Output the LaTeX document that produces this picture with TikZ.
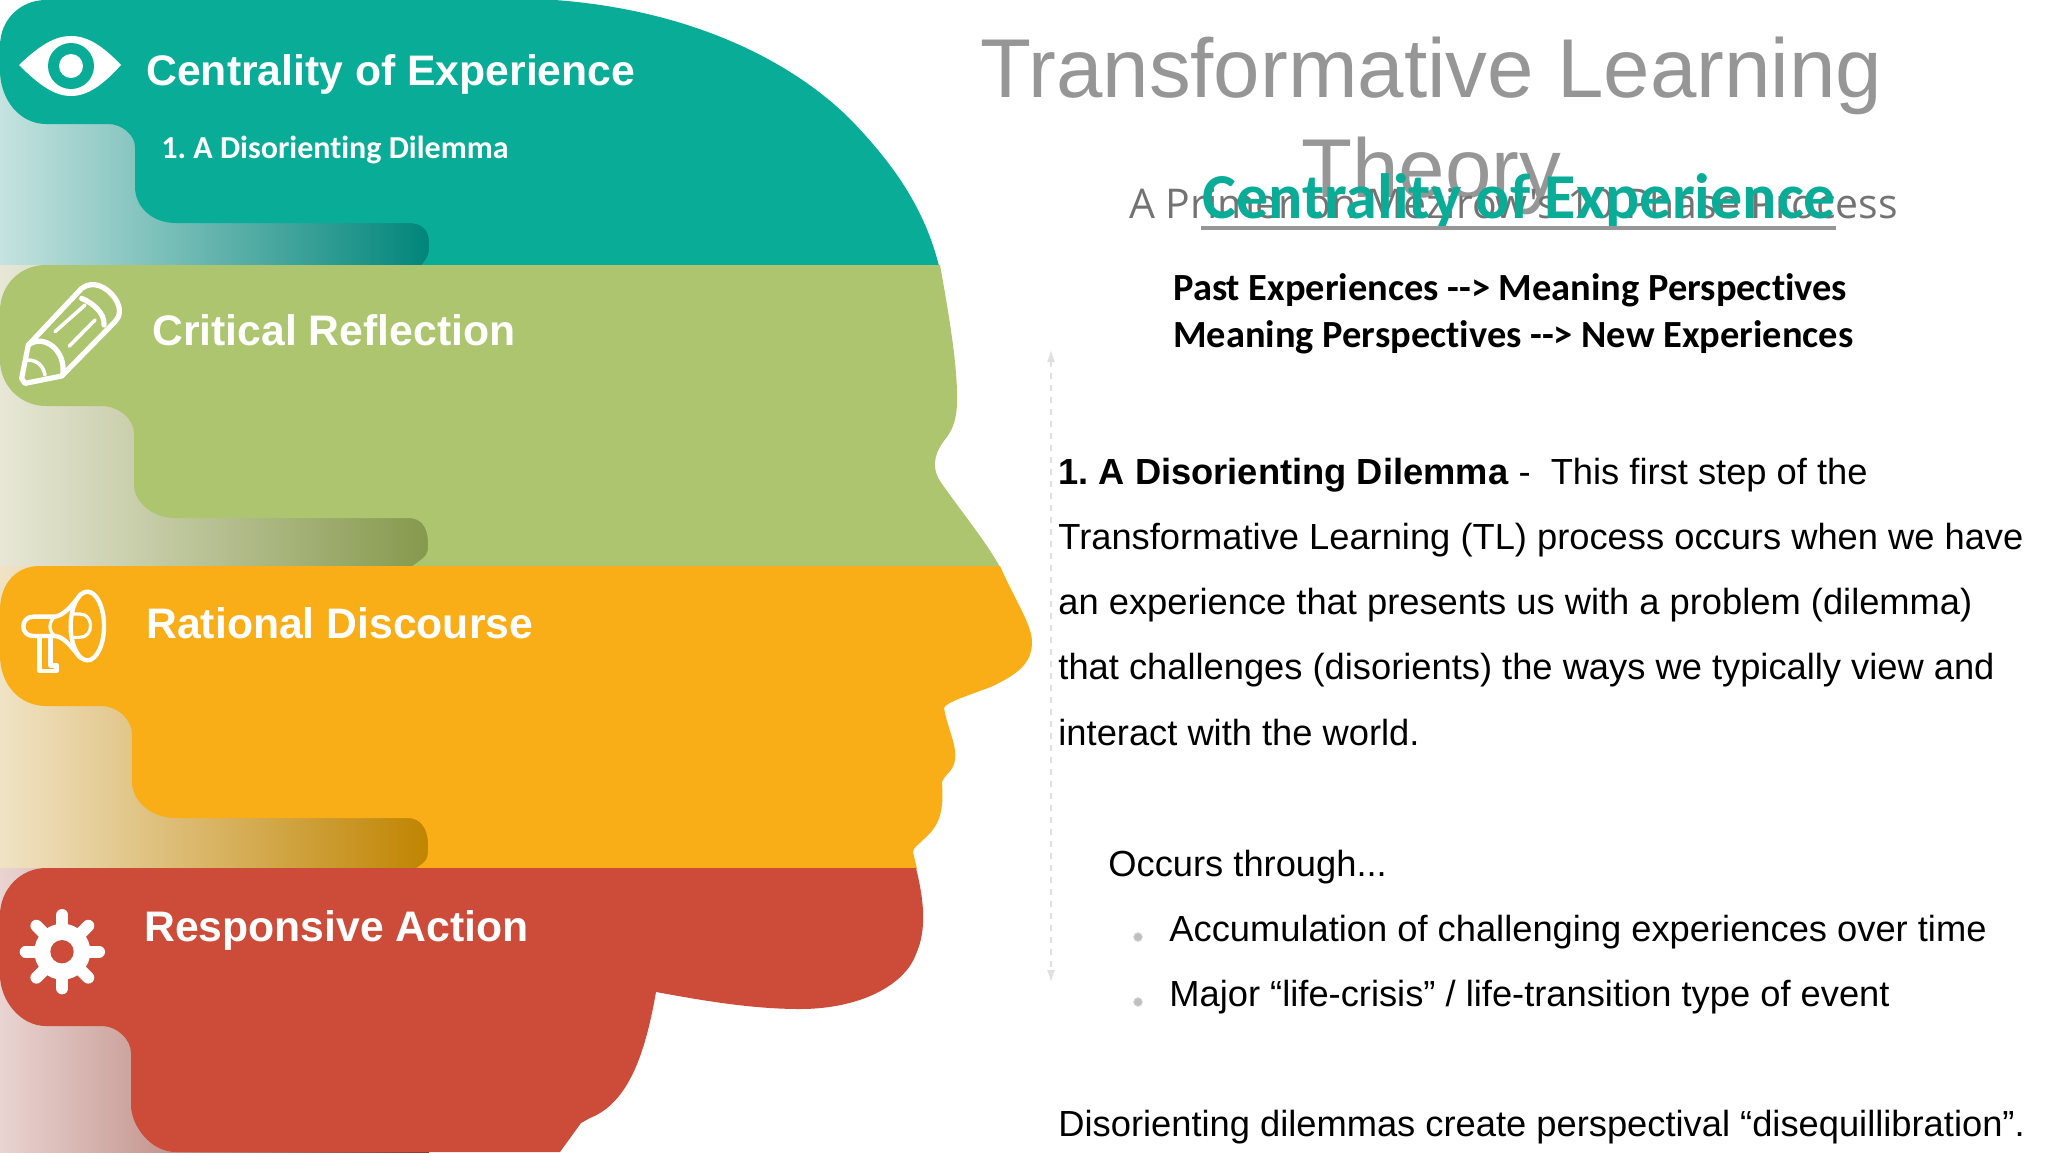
\documentclass[tikz,border=0pt]{standalone}
\usepackage{fontspec}
\setmainfont{Liberation Sans}
\newfontfamily\carlito[Ligatures=NoCommon]{Carlito}
\newfontfamily\opensans{Open Sans}
\usetikzlibrary{arrows.meta}
\definecolor{tealband}{HTML}{09AC96}
\definecolor{greenband}{HTML}{ADC56F}
\definecolor{orangeband}{HTML}{F9AD17}
\definecolor{redband}{HTML}{CC4C39}
\definecolor{titlegray}{HTML}{969696}
\tikzset{
  label/.style={anchor=base west,inner sep=0pt},
  bandhead/.style={label,text=white,font=\bfseries\fontsize{21.35pt}{24pt}\selectfont},
  bodyline/.style={label,text=black,font=\fontsize{18.15pt}{20pt}\selectfont},
  pastline/.style={label,text=black,font=\carlito\bfseries\fontsize{19.2pt}{22pt}\selectfont},
  icon/.style={draw=white,line width=2.6pt,line join=round,line cap=round},
}
\begin{document}
\frenchspacing
\begin{tikzpicture}[x=0.5pt,y=-0.5pt]
    \useasboundingbox (0,0) rectangle (2048,1152);
    % fades behind the bands
    \shade[left color={rgb,255:red,197;green,227;blue,224},middle color={rgb,255:red,111;green,185;blue,173},right color={rgb,255:red,0;green,133;blue,122}] (0,60) rectangle (429,265);
    \shade[left color={rgb,255:red,232;green,231;blue,215},middle color={rgb,255:red,190;green,198;blue,155},right color={rgb,255:red,133;green,153;blue,76}] (0,265) rectangle (429,566);
    \shade[left color={rgb,255:red,240;green,227;blue,197},middle color={rgb,255:red,223;green,188;blue,114},right color={rgb,255:red,192;green,132;blue,0}] (0,566) rectangle (429,868);
    \shade[left color={rgb,255:red,233;green,212;blue,210},middle color={rgb,255:red,190;green,138;blue,130},right color={rgb,255:red,140;green,53;blue,38}] (0,868) rectangle (429,1152);
    % the four bands of the head
    \fill[tealband] (46,0) -- (555,0) .. controls (690,10) and (790,60) .. (849,118) .. controls (895,165) and (925,210) .. (939,266) -- (421,266) .. controls (429,255) .. (429,242) .. controls (429,228) and (420,223) .. (408,223) -- (176,223) .. controls (150,223) and (135,205) .. (135,187) -- (135,147) .. controls (135,135) and (122,124) .. (108,124) -- (46,124) .. controls (20,124) and (0,100) .. (0,70) -- (0,46) .. controls (0,20) and (20,0) .. (46,0) -- cycle;
    \fill[greenband] (46,265) -- (940,265) .. controls (950,320) and (958,370) .. (957,404) .. controls (956,425) and (950,432) .. (947,437) .. controls (936,450) and (930,465) .. (940,481) .. controls (960,510) and (985,540) .. (1000,567) -- (411,567) .. controls (428,555) .. (428,544) .. controls (428,525) and (420,518) .. (408,518) -- (176,518) .. controls (150,518) and (134,500) .. (134,485) -- (134,433) .. controls (134,420) and (120,406) .. (101,406) -- (46,406) .. controls (20,406) and (0,385) .. (0,360) -- (0,311) .. controls (0,285) and (20,265) .. (46,265) -- cycle;
    \fill[orangeband] (40,566) -- (1000,566) .. controls (1015,600) and (1032,625) .. (1032,642) .. controls (1032,665) and (1015,675) .. (993,686) .. controls (970,695) and (946,702) .. (944,708) .. controls (948,730) and (957,745) .. (955,760) .. controls (953,772) and (944,775) .. (942,782) .. controls (944,810) and (940,825) .. (925,838) .. controls (918,845) and (913,848) .. (913,852) -- (917,869) -- (415,869) .. controls (428,860) .. (428,844) .. controls (428,828) and (420,818) .. (408,818) -- (176,818) .. controls (150,818) and (132,800) .. (132,782) -- (132,734) .. controls (132,720) and (118,706) .. (101,706) -- (46,706) .. controls (20,706) and (0,685) .. (0,655) -- (0,610) .. controls (0,585) and (15,566) .. (40,566) -- cycle;
    \fill[redband] (46,868) -- (916,868) .. controls (924,900) and (927,930) .. (916,954) .. controls (905,985) and (860,1009) .. (800,1009) .. controls (750,1009) and (700,1000) .. (656,992) .. controls (645,1055) and (628,1103) .. (590,1118) -- (581,1123) -- (560,1152) -- (176,1152) .. controls (150,1152) and (131,1125) .. (131,1105) -- (131,1053) .. controls (131,1040) and (118,1026) .. (101,1026) -- (46,1026) .. controls (20,1026) and (0,1000) .. (0,975) -- (0,915) .. controls (0,890) and (20,868) .. (46,868) -- cycle;
    % eye
    \fill[white] (19,65) .. controls (40,45) and (55,36) .. (71,36) .. controls (87,36) and (102,45) .. (121,65) .. controls (102,86) and (87,96) .. (71,96) .. controls (55,96) and (40,86) .. (19,65) -- cycle;
    \fill[tealband] (71,66) circle (23);
    \fill[white] (71,66) circle (12);
    % pencil
    \begin{scope}[shift={(0,270)},x=0.1667pt,y=-0.1667pt]
      \draw[icon] (65,325) -- (85,225) -- (245,55) .. controls (280,30) and (320,50) .. (345,85) .. controls (365,115) and (360,140) .. (345,155) -- (185,318) -- (75,340) -- cycle;
      \draw[icon] (85,225) .. controls (130,190) and (200,240) .. (188,315);
      \draw[icon] (245,85) .. controls (280,100) and (315,130) .. (312,165);
      \draw[icon,line width=1.8pt] (165,185) -- (255,105);
      \draw[icon,line width=1.8pt] (208,228) -- (285,150);
      \draw[icon,line width=1.8pt] (82,270) .. controls (115,270) and (130,290) .. (135,315);
    \end{scope}
    % megaphone
    \begin{scope}[shift={(0,580)},x=0.1667pt,y=-0.1667pt]
      \draw[icon,line width=2.2pt] (262,138) ellipse (50 and 103);
      \draw[icon,line width=2.2pt] (240,45) .. controls (210,85) and (190,105) .. (165,110) -- (100,110) .. controls (60,110) and (60,168) .. (100,168) -- (165,168) .. controls (190,170) and (210,195) .. (240,232);
      \draw[icon,line width=1.6pt] (165,110) .. controls (145,125) and (145,155) .. (165,168);
      \draw[icon,line width=1.6pt] (222,102) -- (240,102) .. controls (282,102) and (282,172) .. (240,172) -- (222,172);
      \draw[icon,line width=2.2pt] (118,170) -- (118,272) -- (170,272) -- (170,256) -- (152,256) -- (152,170);
    \end{scope}
    % gear
    \begin{scope}[shift={(0,895)},x=0.1667pt,y=-0.1667pt]
      \fill[white] (187,170) circle (84);
      \foreach \a in {0,45,...,315} {
        \draw[white,line width=6pt,line cap=round] (187,170) -- ++(\a:110);
      }
      \fill[redband] (186,170) circle (35);
    \end{scope}
    % labels inside the head
    \node[bandhead] (centrality) at (146,85) {Centrality of Experience};
    \node[label,text=white,font=\carlito\bfseries\fontsize{16pt}{18pt}\selectfont] (dilemma) at (161,158) {1. A Disorienting Dilemma};
    \node[bandhead] (critical) at (152,345) {Critical Reflection};
    \node[bandhead] (rational) at (146,638) {Rational Discourse};
    \node[bandhead] (responsive) at (144,941) {Responsive Action};
    % the vertical guide
    \coordinate (guidetop) at (1051,350);
    \coordinate (guidebot) at (1051,982);
    \draw[dashed,black!12,line width=0.6pt,{Latex[length=6pt,width=4pt]}-{Latex[length=6pt,width=4pt]}] (guidetop) -- (guidebot);
    % title block, printed over itself as in the slide
    \node[label,text=titlegray,font=\fontsize{41.75pt}{48pt}\selectfont] (title) at (980,97) {Transformative Learning};
    \node[label,text=titlegray,font=\fontsize{41.75pt}{48pt}\selectfont] (titleb) at (1301,197) {Theory};
    \node[label,text=black!55,font=\opensans\fontsize{20.5pt}{24pt}\selectfont] (primer) at (1129,218) {A Primer on Mezirow's 10 Phase Process};
    \node[label,text=tealband,font=\carlito\bfseries\fontsize{32pt}{36pt}\selectfont] (heading) at (1202,218) {Centrality of Experience};
    \coordinate (ruleleft) at (1201,228);
    \coordinate (ruleright) at (1836,228);
    \draw[titlegray,line width=1.8pt] (ruleleft) -- (ruleright);
    \node[pastline] (past) at (1173,300) {Past Experiences --{}> Meaning Perspectives};
    \node[pastline] (meaning) at (1173,347) {Meaning Perspectives --{}> New Experiences};
    % body text
    \node[bodyline] (lineone) at (1058,484) {\textbf{1. A Disorienting Dilemma} -\ \ This first step of the};
    \node[bodyline] (linetwo) at (1058,549) {Transformative Learning (TL) process occurs when we have};
    \node[bodyline] (linethree) at (1058,614) {an experience that presents us with a problem (dilemma)};
    \node[bodyline] (linefour) at (1058,679) {that challenges (disorients) the ways we typically view and};
    \node[bodyline] (linefive) at (1058,745) {interact with the world.};
    \node[bodyline] (occurs) at (1108,876) {Occurs through...};
    \node[bodyline] (accum) at (1169,941) {Accumulation of challenging experiences over time};
    \node[bodyline] (major) at (1169,1006) {Major “life-crisis” / life-transition type of event};
    \node[bodyline] (closing) at (1058,1136) {Disorienting dilemmas create perspectival “disequillibration”.};
    \foreach \y in {937,1002} {
      \filldraw[black!25,draw=black!12] (1138,\y) circle (4.5);
    }
\end{tikzpicture}
\end{document}
